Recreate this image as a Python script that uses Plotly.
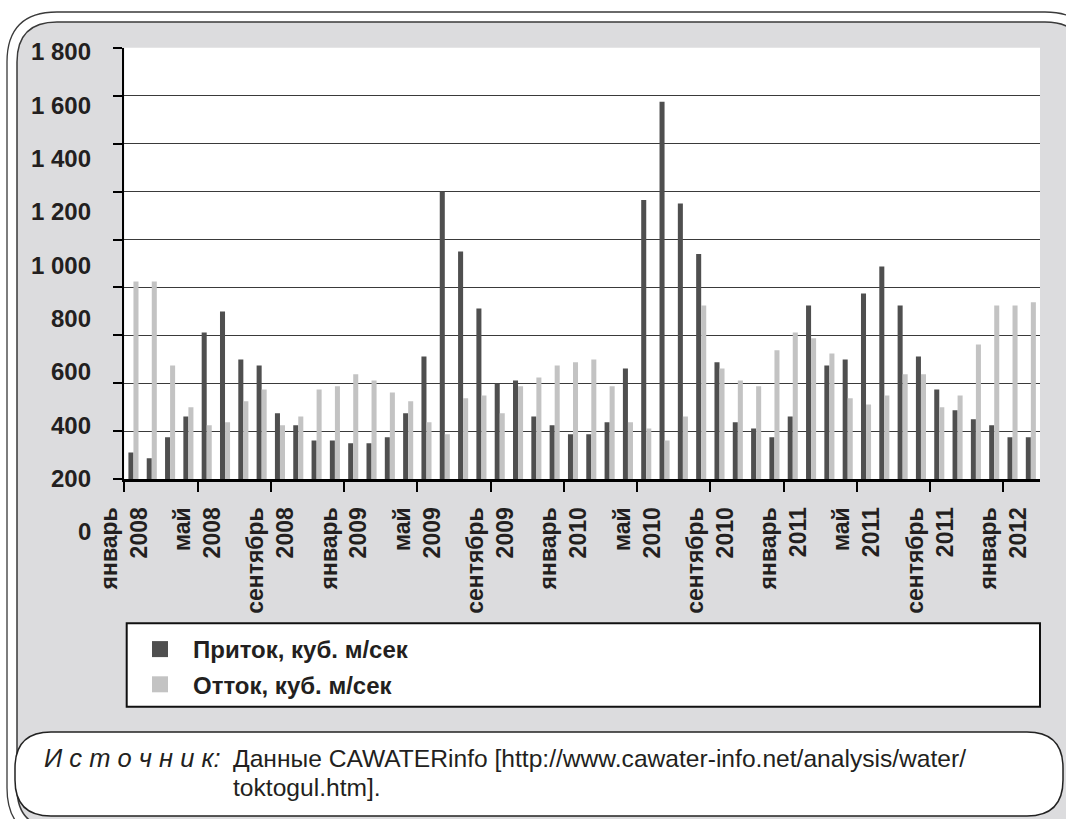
import plotly.graph_objects as go

W, H = 1066, 819

# Monthly series, January 2008 - February 2012 (m3/s)
months = ["январь", "февраль", "март", "апрель", "май", "июнь",
          "июль", "август", "сентябрь", "октябрь", "ноябрь", "декабрь"]
periods = [f"{months[i % 12]} {2008 + i // 12}" for i in range(50)]

inflow = [112, 88, 175, 262, 612, 700, 500, 475, 275, 225, 162, 162,
          150, 150, 175, 275, 512, 1200, 950, 712, 400, 412, 262, 225,
          188, 188, 238, 462, 1165, 1575, 1150, 940, 488, 238, 212, 175,
          262, 725, 475, 500, 775, 888, 725, 512, 375, 288, 250, 225,
          175, 175]

outflow = [825, 825, 475, 300, 225, 238, 325, 375, 225, 262, 375, 388,
           438, 412, 362, 325, 238, 188, 338, 350, 275, 388, 425, 475,
           488, 500, 388, 238, 212, 162, 262, 725, 462, 412, 388, 538,
           612, 588, 525, 338, 312, 350, 438, 438, 300, 350, 562, 725,
           725, 738]

x_ticktext = ["январь<br>2008", "май<br>2008", "сентябрь<br>2008",
              "январь<br>2009", "май<br>2009", "сентябрь<br>2009",
              "январь<br>2010", "май<br>2010", "сентябрь<br>2010",
              "январь<br>2011", "май<br>2011", "сентябрь<br>2011",
              "январь<br>2012"]

y_tickvals = [0, 200, 400, 600, 800, 1000, 1200, 1400, 1600, 1800]
y_ticktext = ["0", "200", "400", "600", "800", "1 000", "1 200", "1 400", "1 600", "1 800"]

series_names = ["Приток, куб. м/сек", "Отток, куб. м/сек"]
series_colors = ["#4f4f4f", "#c3c3c3"]

source_label = "И с т о ч н и к:"
source_lines = ["Данные CAWATERinfo [http://www.cawater-info.net/analysis/water/",
                "toktogul.htm]."]

FONT = "Liberation Sans, Arial, sans-serif"
TXT = "#231f20"
FRAME_GREY = "#dcdcde"


def px(x):
    return x / W


def py(y):
    return 1 - y / H


def rounded_rect(x0, y0, x1, y1, r):
    """SVG path (paper units) of a rectangle with rounded corners given in pixels."""
    def p(x, y):
        return f"{px(x):.5f},{py(y):.5f}"
    return (f"M {p(x0 + r, y0)} L {p(x1 - r, y0)} Q {p(x1, y0)} {p(x1, y0 + r)} "
            f"L {p(x1, y1 - r)} Q {p(x1, y1)} {p(x1 - r, y1)} "
            f"L {p(x0 + r, y1)} Q {p(x0, y1)} {p(x0, y1 - r)} "
            f"L {p(x0, y0 + r)} Q {p(x0, y0)} {p(x0 + r, y0)} Z")


# plot area in pixels
PL, PR, PT, PB = 124.3, 1040, 47.7, 479.3

x_pos = list(range(len(periods)))

fig = go.Figure()
for name, vals, col in zip(series_names, [inflow, outflow], series_colors):
    fig.add_trace(go.Bar(x=x_pos, y=vals, name=name, marker=dict(color=col, line=dict(width=0)),
                         customdata=periods, hovertemplate="%{customdata}: %{y}<extra></extra>",
                         showlegend=False))
# legend entries with larger square swatches
for i, (name, col) in enumerate(zip(series_names, series_colors)):
    fig.add_trace(go.Scatter(x=[None], y=[None], mode="markers", name=name,
                             legendgroup=f"g{i}",
                             marker=dict(symbol="square", size=18, color=col, line=dict(width=0))))

shapes = [
    # double rounded frame around the whole figure
    dict(type="path", path=rounded_rect(7, 12, 1095, 838, 50), xref="paper", yref="paper",
         line=dict(color="#3a3a3a", width=1.3), fillcolor="rgba(0,0,0,0)", layer="below"),
    dict(type="path", path=rounded_rect(17, 22, 1085, 828, 40), xref="paper", yref="paper",
         line=dict(color="#3a3a3a", width=1.5), fillcolor=FRAME_GREY, layer="below"),
    # white plotting area
    dict(type="rect", x0=px(PL), x1=px(PR), y0=py(PB), y1=py(PT), xref="paper", yref="paper",
         line=dict(width=0), fillcolor="white", layer="below"),
    # legend box
    dict(type="rect", x0=px(126.7), x1=px(1040), y0=py(706.7), y1=py(623.3), xref="paper", yref="paper",
         line=dict(color="#111", width=2), fillcolor="white", layer="below"),
    # source box
    dict(type="path", path=rounded_rect(15, 732, 1063, 816, 36), xref="paper", yref="paper",
         line=dict(color="#222", width=1.5), fillcolor="white", layer="below"),
]

annotations = []
# value labels along the vertical axis
for v, t in zip(y_tickvals, y_ticktext):
    ypix = 531.7 - v * (480 / 1800)
    annotations.append(dict(x=px(93), y=py(ypix), xref="paper", yref="paper", text=t,
                            showarrow=False, xanchor="right", yanchor="middle",
                            font=dict(family=FONT, size=24, color=TXT, weight=700)))

annotations.append(dict(x=px(42), y=py(758), xref="paper", yref="paper",
                        text=f"<i>{source_label}</i>", showarrow=False,
                        xanchor="left", yanchor="middle",
                        font=dict(family=FONT, size=25.5, color=TXT)))
for line, ypix in zip(source_lines, [758, 787]):
    annotations.append(dict(x=px(231), y=py(ypix), xref="paper", yref="paper",
                            text=line, showarrow=False, xanchor="left", yanchor="middle",
                            font=dict(family=FONT, size=24.6, color=TXT)))

fig.update_layout(
    width=W, height=H,
    margin=dict(l=0, r=0, t=0, b=0, autoexpand=False),
    paper_bgcolor="white",
    plot_bgcolor="rgba(0,0,0,0)",
    barmode="group", bargap=0.45, bargroupgap=0,
    font=dict(family=FONT, color=TXT),
    shapes=shapes,
    annotations=annotations,
    showlegend=True,
    legend=dict(x=px(127), y=py(627), xanchor="left", yanchor="top",
                bgcolor="rgba(0,0,0,0)", borderwidth=0, itemwidth=56,
                traceorder="grouped", tracegroupgap=1,
                font=dict(family=FONT, size=24, color=TXT, weight=700)),
    xaxis=dict(domain=[px(PL), px(PR)], range=[-0.5, 49.5],
               tickmode="array", tickvals=[i - 0.5 for i in range(0, 49, 4)], ticktext=x_ticktext,
               tickangle=-90, ticks="outside", ticklen=10, tickwidth=2, tickcolor="black",
               ticklabelstandoff=6,
               showline=True, linecolor="black", linewidth=2.5, showgrid=False, zeroline=False,
               tickfont=dict(family=FONT, size=23, color=TXT, weight=700)),
    yaxis=dict(domain=[py(PB), py(PT)], range=[0, 1800],
               tickmode="array", tickvals=y_tickvals, showticklabels=False,
               ticks="outside", ticklen=9, tickwidth=2, tickcolor="black",
               showline=True, linecolor="black", linewidth=2,
               showgrid=True, gridcolor="#3a3a3a", gridwidth=1.4, zeroline=False),
)

fig.write_html("out.html")
